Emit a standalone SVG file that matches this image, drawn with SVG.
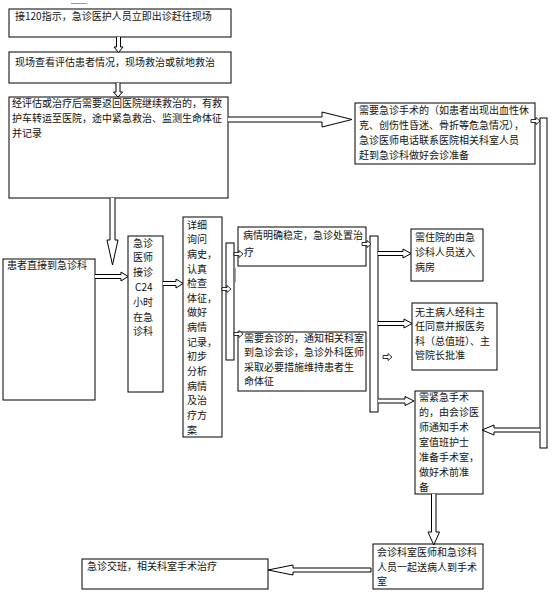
<svg xmlns="http://www.w3.org/2000/svg" width="558" height="604" viewBox="0 0 558 604">
<style>
  .box{fill:#fff;stroke:#000;stroke-width:1}
  .bar{fill:#fff;stroke:#000;stroke-width:1}
  .arr{fill:#fff;stroke:#000;stroke-width:1;stroke-linejoin:miter}
  .t{font-family:"Noto Sans CJK SC","Noto Sans CJK JP",sans-serif;font-size:10px;fill:#111}
</style>
<defs>
  <path id="sm" d="M0,-1.5 H5 V-3.5 L9,0 L5,3.5 V1.5 H0 Z" fill="#fff" stroke="#000" stroke-width="0.8"/>
</defs>
<rect width="558" height="604" fill="#fff"/>
<line x1="71" y1="3.5" x2="87" y2="3.5" stroke="#999" stroke-width="1"/>
<rect x="211" y="266" width="8" height="14" fill="#e3eaf3" stroke="#c9d4e4" stroke-width="0.6"/>
<line x1="235.5" y1="268" x2="235.5" y2="282" stroke="#8fa0d0" stroke-width="1"/>

<g id="n1"><rect class="box" x="9" y="9" width="222" height="28"/>
<text class="t" x="15" y="19.5">接120指示，急诊医护人员立即出诊赶往现场</text></g>

<g id="n2"><rect class="box" x="9" y="52" width="222" height="31"/>
<text class="t" x="15" y="65.5">现场查看评估患者情况，现场救治或就地救治</text></g>

<g id="n3"><rect class="box" x="9" y="97" width="219" height="101"/>
<text class="t" x="12" y="107">经评估或治疗后需要返回医院继续救治的，有救</text>
<text class="t" x="12" y="122">护车转运至医院，途中紧急救治、监测生命体征</text>
<text class="t" x="12" y="137">并记录</text></g>

<g id="n4"><rect class="box" x="355" y="103" width="180" height="61"/>
<text class="t" x="359" y="113.5">需要急诊手术的（如患者出现出血性休</text>
<text class="t" x="359" y="128.5">克、创伤性昏迷、骨折等危急情况），</text>
<text class="t" x="359" y="143.5">急诊医师电话联系医院相关科室人员</text>
<text class="t" x="359" y="158.5">赶到急诊科做好会诊准备</text></g>

<g id="n5"><rect class="box" x="3" y="259" width="92" height="141"/>
<text class="t" x="7" y="268.5">患者直接到急诊科</text></g>

<g id="n6"><rect class="box" x="128" y="236" width="35" height="156"/>
<text class="t" x="133" y="246.5">急诊</text>
<text class="t" x="133" y="261.3">医师</text>
<text class="t" x="133" y="276.1">接诊</text>
<text class="t" x="135" y="290.9">C24</text>
<text class="t" x="133" y="305.7">小时</text>
<text class="t" x="133" y="320.5">在急</text>
<text class="t" x="133" y="335.3">诊科</text></g>

<g id="n7"><rect class="box" x="183" y="217" width="39" height="220"/>
<text class="t" x="187" y="228.5">详细</text>
<text class="t" x="187" y="243.2">询问</text>
<text class="t" x="187" y="257.8">病史，</text>
<text class="t" x="187" y="272.5">认真</text>
<text class="t" x="187" y="287.1">检查</text>
<text class="t" x="187" y="301.8">体征，</text>
<text class="t" x="187" y="316.4">做好</text>
<text class="t" x="187" y="331.1">病情</text>
<text class="t" x="187" y="345.7">记录，</text>
<text class="t" x="187" y="360.4">初步</text>
<text class="t" x="187" y="375">分析</text>
<text class="t" x="187" y="389.7">病情</text>
<text class="t" x="187" y="404.3">及治</text>
<text class="t" x="187" y="419">疗方</text>
<text class="t" x="187" y="433.6">案</text></g>

<g id="barL"><rect class="bar" x="226" y="243" width="8" height="117"/></g>

<g id="n8"><rect class="box" x="238" y="227" width="128" height="39"/>
<text class="t" x="243" y="238.5">病情明确稳定，急诊处置治</text>
<text class="t" x="244" y="255.5">疗</text></g>

<g id="n9"><rect class="box" x="238" y="332" width="128" height="59"/>
<text class="t" x="244" y="341.5">需要会诊的，通知相关科室</text>
<text class="t" x="244" y="356">到急诊会诊，急诊外科医师</text>
<text class="t" x="244" y="370.5">采取必要措施维持患者生</text>
<text class="t" x="244" y="385">命体征</text></g>

<g id="barM"><rect class="bar" x="370" y="236" width="8" height="176"/></g>

<g id="n10"><rect class="box" x="411" y="229" width="72" height="52"/>
<text class="t" x="415" y="240.5">需住院的由急</text>
<text class="t" x="415" y="256">诊科人员送入</text>
<text class="t" x="415" y="271">病房</text></g>

<g id="n11"><rect class="box" x="412" y="303" width="85" height="67"/>
<text class="t" x="415" y="315.5">无主病人经科主</text>
<text class="t" x="415" y="330">任同意并报医务</text>
<text class="t" x="415" y="344.5">科（总值班）、主</text>
<text class="t" x="415" y="359">管院长批准</text></g>

<g id="n12"><rect class="box" x="415" y="391" width="68" height="103"/>
<text class="t" x="419" y="400.5">需紧急手术</text>
<text class="t" x="419" y="416">的，由会诊医</text>
<text class="t" x="419" y="431">师通知手术</text>
<text class="t" x="419" y="446">室值班护士</text>
<text class="t" x="419" y="461">准备手术室，</text>
<text class="t" x="419" y="476">做好术前准</text>
<text class="t" x="419" y="490.5">备</text></g>

<g id="barR"><rect class="bar" x="540" y="118" width="7" height="330"/></g>

<g id="n13"><rect class="box" x="373" y="544" width="110" height="45"/>
<text class="t" x="377" y="555.5">会诊科室医师和急诊科</text>
<text class="t" x="377" y="570.5">人员一起送病人到手术</text>
<text class="t" x="377" y="584.5">室</text></g>

<g id="n14"><rect class="box" x="82" y="559" width="186" height="30"/>
<text class="t" x="87" y="569.5">急诊交班，相关科室手术治疗</text></g>

<g id="connectors">
  <path class="arr" d="M116.5,37 V47 H114 L118.5,52.5 L123,47 H120.5 V37"/>
  <path class="arr" d="M116,83 V92 H113.5 L118,97 L122.5,92 H120 V83"/>
  <path class="arr" d="M110,198 V240 H107 L112.5,265 L118,240 H115 V198"/>
  <path class="arr" d="M95,274.5 H121 V272 L128,276.5 L121,281 V278.5 H95"/>
  <path class="arr" d="M163,281.5 H176 V279 L183,283.5 L176,288 V285.5 H163"/>
  <path class="arr" d="M228,117 H322 V112 L352,119.5 L322,127 V122 H228"/>
  <path class="arr" d="M378,251.5 H403 V249 L411,253.5 L403,258 V255.5 H378"/>
  <path class="arr" d="M378,321.5 H404 V319 L412,323.5 L404,328 V325.5 H378"/>
  <path class="arr" d="M378,399 H405 V396.5 L414,401 L405,405.5 V403 H378"/>
  <path class="arr" d="M540,428 H494 V425 L482,430 L494,435 V432 H540"/>
  <path class="arr" d="M431.5,494 V532 H428 L433.75,545 L439.5,532 H436 V494"/>
  <path class="arr" d="M371,568 H293 V565 L268,570 L293,575 V572 H371 Z"/>
  <use href="#sm" x="222" y="289"/>
  <use href="#sm" x="234" y="254"/>
  <use href="#sm" x="234" y="334"/>
  <use href="#sm" x="362" y="244"/>
  <use href="#sm" x="531" y="121"/>
  <use href="#sm" x="383" y="357"/>
</g>
</svg>
